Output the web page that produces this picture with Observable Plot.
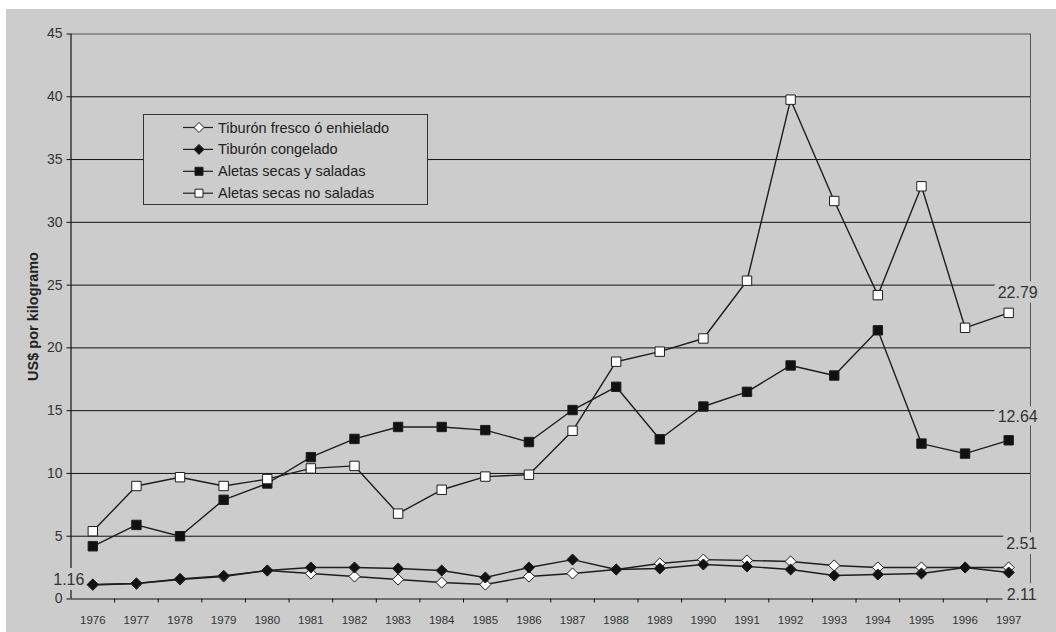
<!DOCTYPE html>
<html><head><meta charset="utf-8">
<script src="https://cdn.jsdelivr.net/npm/d3@7"></script>
<script src="https://cdn.jsdelivr.net/npm/@observablehq/plot@0.6"></script>
<style>
html,body{margin:0;padding:0;background:#fff;}
#wrap{position:relative;width:1056px;height:632px;overflow:hidden;background:#fff;}
#chart{position:absolute;left:6px;top:9px;}
#legend{position:absolute;left:143px;top:114px;}
svg{font-family:"Liberation Sans", Arial, sans-serif;}
</style></head><body>
<div id="wrap"><div id="chart"></div><div id="legend"></div></div>
<script>
const years = [1976,1977,1978,1979,1980,1981,1982,1983,1984,1985,1986,1987,1988,1989,1990,1991,1992,1993,1994,1995,1996,1997];
const seriesNames = ["Tiburón fresco ó enhielado","Tiburón congelado","Aletas secas y saladas","Aletas secas no saladas"];
const fresco    = [1.12,1.23,1.55,1.79,2.27,2.03,1.79,1.55,1.31,1.15,1.79,2.03,2.35,2.83,3.14,3.07,2.99,2.67,2.51,2.51,2.51,2.51];
const congelado = [1.16,1.23,1.60,1.85,2.27,2.51,2.51,2.43,2.27,1.71,2.51,3.14,2.35,2.43,2.75,2.59,2.35,1.87,1.95,2.03,2.51,2.11];
const saladas   = [4.2,5.9,5.0,7.9,9.2,11.3,12.75,13.7,13.7,13.45,12.5,15.05,16.9,12.72,15.33,16.5,18.6,17.8,21.4,12.38,11.58,12.64];
const noSaladas = [5.4,9.0,9.7,9.0,9.55,10.4,10.6,6.8,8.7,9.75,9.9,13.4,18.9,19.7,20.75,25.35,39.77,31.7,24.2,32.87,21.6,22.79];
const yTicks = [0,5,10,15,20,25,30,35,40,45];
const yTitle = "US$ por kilogramo";

const valuesBySeries = [fresco, congelado, saladas, noSaladas];
const symbols = ["diamond2","diamond2","square","square"];
const fills = ["white","#111","#111","white"];
const d3Symbols = [d3.symbolDiamond2, d3.symbolDiamond2, d3.symbolSquare, d3.symbolSquare];

const data = [];
valuesBySeries.forEach((vals, i) => vals.forEach((v, j) => data.push({series: seriesNames[i], year: years[j], value: v})));
const bySeries = name => data.filter(d => d.series === name);
const boundaries = years.slice(0, -1).map(y => y + 0.5);
const xDomain = [years[0] - 0.5, years[years.length - 1] + 0.5];
const fmt = d => d.value.toFixed(2);
const first = name => bySeries(name).slice(0, 1);
const last = name => bySeries(name).slice(-1);

const labelStyle = {x: "year", y: "value", text: fmt, fontSize: 16, fill: "#333", stroke: "#cccccc", strokeWidth: 10, strokeLinejoin: "round", paintOrder: "stroke"};

const seriesMarks = [];
seriesNames.forEach((name, i) => {
  seriesMarks.push(Plot.line(bySeries(name), {x: "year", y: "value", stroke: "#1e1e1e", strokeWidth: 1.4}));
  seriesMarks.push(Plot.dot(bySeries(name), {x: "year", y: "value", symbol: symbols[i], fill: fills[i], stroke: "#1e1e1e", strokeWidth: 1, r: symbols[i] === "square" ? 5.3 : 5}));
});

const chart = Plot.plot({
  width: 1050, height: 623,
  marginLeft: 64.5, marginTop: 24.5, marginRight: 26, marginBottom: 33.5,
  style: {background: "#cccccc", fontFamily: "Liberation Sans, Arial, sans-serif", color: "#222", overflow: "visible"},
  x: {type: "linear", domain: xDomain},
  y: {domain: [0, 45]},
  marks: [
    Plot.ruleY(yTicks.filter(t => t > 0 && t < 45), {stroke: "#111", strokeWidth: 1}),
    Plot.ruleY([45], {stroke: "#555", strokeWidth: 1}),
    Plot.ruleX([xDomain[1]], {stroke: "#555", strokeWidth: 1}),
    Plot.ruleX([xDomain[0]], {stroke: "#111", strokeWidth: 1.2}),
    Plot.ruleY([0], {stroke: "#111", strokeWidth: 1.2}),
    Plot.axisY({ticks: yTicks, tickSize: 4, tickFormat: () => "", label: null, stroke: "#111"}),
    Plot.axisX({ticks: boundaries, tickSize: 4, tickFormat: () => "", label: null, stroke: "#111"}),
    Plot.text(yTicks, {y: d => d, text: d => String(d), frameAnchor: "left", textAnchor: "end", lineAnchor: "middle", dx: -8.5, fontSize: 14, fill: "#333"}),
    Plot.text(years, {x: d => d, text: d => String(d), frameAnchor: "bottom", textAnchor: "middle", lineAnchor: "top", dy: 16.5, fontSize: 11.5, fill: "#333"}),
    Plot.text([yTitle], {frameAnchor: "left", textAnchor: "middle", lineAnchor: "middle", dx: -37.5, rotate: -90, fontWeight: "bold", fontSize: 14.5, fill: "#222"}),
    Plot.text(first(seriesNames[1]), {...labelStyle, dx: -24, dy: -5}),
    Plot.text(last(seriesNames[3]), {...labelStyle, dx: 9, dy: -20}),
    Plot.text(last(seriesNames[2]), {...labelStyle, dx: 9, dy: -23}),
    Plot.text(last(seriesNames[0]), {...labelStyle, dx: 13, dy: -24}),
    Plot.text(last(seriesNames[1]), {...labelStyle, dx: 13, dy: 22}),
    ...seriesMarks
  ]
});
document.getElementById("chart").appendChild(chart);

// legend
const lg = d3.select("#legend").append("svg").attr("width", 286).attr("height", 92);
lg.append("rect").attr("x", 0.5).attr("y", 0.5).attr("width", 284).attr("height", 90)
  .attr("fill", "#cccccc").attr("stroke", "#333").attr("stroke-width", 1);
seriesNames.forEach((name, i) => {
  const cy = 13.5 + i * 21.9;
  const g = lg.append("g").attr("transform", `translate(0,${cy})`);
  g.append("line").attr("x1", 40).attr("x2", 70).attr("y1", 0).attr("y2", 0).attr("stroke", "#1e1e1e").attr("stroke-width", 1.2);
  g.append("path").attr("d", d3.symbol().type(d3Symbols[i]).size(64)()).attr("transform", "translate(56,0)")
    .attr("fill", fills[i]).attr("stroke", "#1e1e1e").attr("stroke-width", 1);
  g.append("text").attr("x", 75).attr("y", 0).attr("dy", "0.35em").attr("font-size", 14.5).attr("fill", "#222")
    .style("font-family", "Liberation Sans, Arial, sans-serif").text(name);
});
</script>
</body></html>
